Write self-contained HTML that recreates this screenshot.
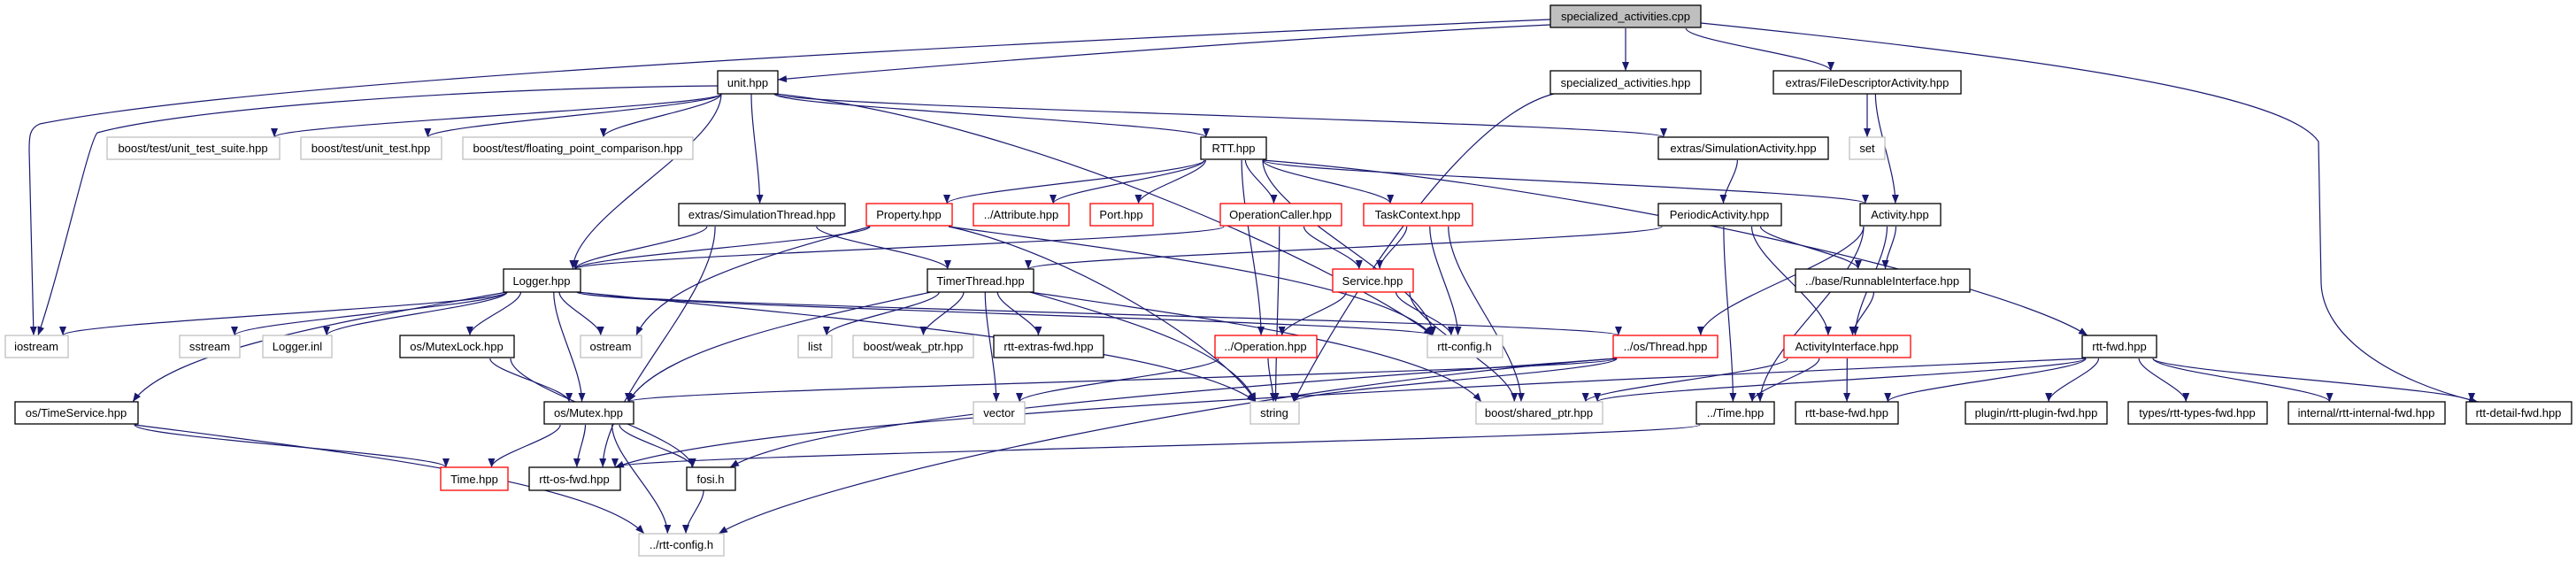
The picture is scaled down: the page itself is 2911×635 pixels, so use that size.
<!DOCTYPE html>
<html><head><meta charset="utf-8"><style>
html,body{margin:0;padding:0;background:#fff;width:2911px;height:635px;overflow:hidden}
svg text{font-family:"Liberation Sans",sans-serif;font-size:13px;fill:#000}
</style></head><body>
<svg id="g" width="2911" height="635" viewBox="0 0 2911 635" xmlns="http://www.w3.org/2000/svg">
<defs><marker id="a" markerWidth="11" markerHeight="8" refX="10" refY="4" orient="auto" markerUnits="userSpaceOnUse"><path d="M0,0 L10,4 L0,8 z" fill="#191970"/></marker></defs>
<g id="edges" fill="none" stroke="#191970" stroke-width="1.2"></g>
<g id="nodes" stroke-width="1.3">
<rect x="1752" y="6" width="170" height="25" fill="#bfbfbf" stroke="#000"/><text x="1837" y="23" text-anchor="middle">specialized_activities.cpp</text>
<rect x="811" y="80" width="68" height="26" fill="#fff" stroke="#000"/><text x="845" y="98" text-anchor="middle">unit.hpp</text>
<rect x="1752" y="80" width="170" height="26" fill="#fff" stroke="#000"/><text x="1837" y="98" text-anchor="middle">specialized_activities.hpp</text>
<rect x="2004" y="80" width="212" height="26" fill="#fff" stroke="#000"/><text x="2110" y="98" text-anchor="middle">extras/FileDescriptorActivity.hpp</text>
<rect x="121" y="155" width="195" height="25" fill="#fff" stroke="#bfbfbf"/><text x="218" y="172" text-anchor="middle">boost/test/unit_test_suite.hpp</text>
<rect x="340" y="155" width="159" height="25" fill="#fff" stroke="#bfbfbf"/><text x="419" y="172" text-anchor="middle">boost/test/unit_test.hpp</text>
<rect x="523" y="155" width="260" height="25" fill="#fff" stroke="#bfbfbf"/><text x="653" y="172" text-anchor="middle">boost/test/floating_point_comparison.hpp</text>
<rect x="1357" y="155" width="74" height="25" fill="#fff" stroke="#000"/><text x="1394" y="172" text-anchor="middle">RTT.hpp</text>
<rect x="1874" y="155" width="192" height="25" fill="#fff" stroke="#000"/><text x="1970" y="172" text-anchor="middle">extras/SimulationActivity.hpp</text>
<rect x="2090" y="155" width="40" height="25" fill="#fff" stroke="#bfbfbf"/><text x="2110" y="172" text-anchor="middle">set</text>
<rect x="767" y="230" width="188" height="25" fill="#fff" stroke="#000"/><text x="861" y="247" text-anchor="middle">extras/SimulationThread.hpp</text>
<rect x="979" y="230" width="97" height="25" fill="#fff" stroke="#f00"/><text x="1027" y="247" text-anchor="middle">Property.hpp</text>
<rect x="1100" y="230" width="108" height="25" fill="#fff" stroke="#f00"/><text x="1154" y="247" text-anchor="middle">../Attribute.hpp</text>
<rect x="1232" y="230" width="71" height="25" fill="#fff" stroke="#f00"/><text x="1267" y="247" text-anchor="middle">Port.hpp</text>
<rect x="1379" y="230" width="137" height="25" fill="#fff" stroke="#f00"/><text x="1447" y="247" text-anchor="middle">OperationCaller.hpp</text>
<rect x="1541" y="230" width="123" height="25" fill="#fff" stroke="#f00"/><text x="1602" y="247" text-anchor="middle">TaskContext.hpp</text>
<rect x="1874" y="230" width="139" height="25" fill="#fff" stroke="#000"/><text x="1943" y="247" text-anchor="middle">PeriodicActivity.hpp</text>
<rect x="2102" y="230" width="91" height="25" fill="#fff" stroke="#000"/><text x="2147" y="247" text-anchor="middle">Activity.hpp</text>
<rect x="569" y="304" width="87" height="26" fill="#fff" stroke="#000"/><text x="612" y="322" text-anchor="middle">Logger.hpp</text>
<rect x="1048" y="304" width="120" height="26" fill="#fff" stroke="#000"/><text x="1108" y="322" text-anchor="middle">TimerThread.hpp</text>
<rect x="1506" y="304" width="91" height="26" fill="#fff" stroke="#f00"/><text x="1551" y="322" text-anchor="middle">Service.hpp</text>
<rect x="2029" y="304" width="197" height="26" fill="#fff" stroke="#000"/><text x="2127" y="322" text-anchor="middle">../base/RunnableInterface.hpp</text>
<rect x="6" y="379" width="71" height="25" fill="#fff" stroke="#bfbfbf"/><text x="41" y="396" text-anchor="middle">iostream</text>
<rect x="203" y="379" width="68" height="25" fill="#fff" stroke="#bfbfbf"/><text x="237" y="396" text-anchor="middle">sstream</text>
<rect x="297" y="379" width="78" height="25" fill="#fff" stroke="#bfbfbf"/><text x="336" y="396" text-anchor="middle">Logger.inl</text>
<rect x="452" y="379" width="129" height="25" fill="#fff" stroke="#000"/><text x="516" y="396" text-anchor="middle">os/MutexLock.hpp</text>
<rect x="656" y="379" width="69" height="25" fill="#fff" stroke="#bfbfbf"/><text x="690" y="396" text-anchor="middle">ostream</text>
<rect x="902" y="379" width="38" height="25" fill="#fff" stroke="#bfbfbf"/><text x="921" y="396" text-anchor="middle">list</text>
<rect x="964" y="379" width="136" height="25" fill="#fff" stroke="#bfbfbf"/><text x="1032" y="396" text-anchor="middle">boost/weak_ptr.hpp</text>
<rect x="1123" y="379" width="124" height="25" fill="#fff" stroke="#000"/><text x="1185" y="396" text-anchor="middle">rtt-extras-fwd.hpp</text>
<rect x="1373" y="379" width="115" height="25" fill="#fff" stroke="#f00"/><text x="1430" y="396" text-anchor="middle">../Operation.hpp</text>
<rect x="1613" y="379" width="85" height="25" fill="#fff" stroke="#bfbfbf"/><text x="1655" y="396" text-anchor="middle">rtt-config.h</text>
<rect x="1823" y="379" width="118" height="25" fill="#fff" stroke="#f00"/><text x="1882" y="396" text-anchor="middle">../os/Thread.hpp</text>
<rect x="2016" y="379" width="143" height="25" fill="#fff" stroke="#f00"/><text x="2087" y="396" text-anchor="middle">ActivityInterface.hpp</text>
<rect x="2353" y="379" width="84" height="25" fill="#fff" stroke="#000"/><text x="2395" y="396" text-anchor="middle">rtt-fwd.hpp</text>
<rect x="17" y="454" width="139" height="25" fill="#fff" stroke="#000"/><text x="86" y="471" text-anchor="middle">os/TimeService.hpp</text>
<rect x="615" y="454" width="101" height="25" fill="#fff" stroke="#000"/><text x="665" y="471" text-anchor="middle">os/Mutex.hpp</text>
<rect x="1100" y="454" width="58" height="25" fill="#fff" stroke="#bfbfbf"/><text x="1129" y="471" text-anchor="middle">vector</text>
<rect x="1413" y="454" width="55" height="25" fill="#fff" stroke="#bfbfbf"/><text x="1440" y="471" text-anchor="middle">string</text>
<rect x="1668" y="454" width="143" height="25" fill="#fff" stroke="#bfbfbf"/><text x="1739" y="471" text-anchor="middle">boost/shared_ptr.hpp</text>
<rect x="1917" y="454" width="88" height="25" fill="#fff" stroke="#000"/><text x="1961" y="471" text-anchor="middle">../Time.hpp</text>
<rect x="2029" y="454" width="116" height="25" fill="#fff" stroke="#000"/><text x="2087" y="471" text-anchor="middle">rtt-base-fwd.hpp</text>
<rect x="2221" y="454" width="160" height="25" fill="#fff" stroke="#000"/><text x="2301" y="471" text-anchor="middle">plugin/rtt-plugin-fwd.hpp</text>
<rect x="2405" y="454" width="157" height="25" fill="#fff" stroke="#000"/><text x="2483" y="471" text-anchor="middle">types/rtt-types-fwd.hpp</text>
<rect x="2586" y="454" width="177" height="25" fill="#fff" stroke="#000"/><text x="2674" y="471" text-anchor="middle">internal/rtt-internal-fwd.hpp</text>
<rect x="2787" y="454" width="119" height="25" fill="#fff" stroke="#000"/><text x="2846" y="471" text-anchor="middle">rtt-detail-fwd.hpp</text>
<rect x="498" y="528" width="76" height="26" fill="#fff" stroke="#f00"/><text x="536" y="546" text-anchor="middle">Time.hpp</text>
<rect x="598" y="528" width="103" height="26" fill="#fff" stroke="#000"/><text x="649" y="546" text-anchor="middle">rtt-os-fwd.hpp</text>
<rect x="776" y="528" width="55" height="26" fill="#fff" stroke="#000"/><text x="803" y="546" text-anchor="middle">fosi.h</text>
<rect x="722" y="603" width="96" height="25" fill="#fff" stroke="#bfbfbf"/><text x="770" y="620" text-anchor="middle">../rtt-config.h</text>
</g>
</svg>
<script>
var N={root:[1752,1922,6],unit:[811,879,80],sah:[1752,1922,80],fda:[2004,2216,80],uts:[121,316,155],ut:[340,499,155],fpc:[523,783,155],rtt:[1357,1431,155],sima:[1874,2066,155],set:[2090,2130,155],simt:[767,955,230],prop:[979,1076,230],attr:[1100,1208,230],port:[1232,1303,230],opc:[1379,1516,230],tc:[1541,1664,230],pa:[1874,2013,230],act:[2102,2193,230],logger:[569,656,304],tt:[1048,1168,304],svc:[1506,1597,304],ri:[2029,2226,304],ios:[6,77,379],ss:[203,271,379],linl:[297,375,379],ml:[452,581,379],os:[656,725,379],list:[902,940,379],wp:[964,1100,379],ref:[1123,1247,379],op:[1373,1488,379],rc:[1613,1698,379],thr:[1823,1941,379],ai:[2016,2159,379],rfwd:[2353,2437,379],ts:[17,156,454],mx:[615,716,454],vec:[1100,1158,454],str:[1413,1468,454],sp:[1668,1811,454],time2:[1917,2005,454],rbf:[2029,2145,454],ppf:[2221,2381,454],tpf:[2405,2562,454],ipf:[2586,2763,454],dfw:[2787,2906,454],time:[498,574,528],osf:[598,701,528],fosi:[776,831,528],rcfg:[722,818,603]};
var C={
"root-ios":"M1752,22 C1100,50 300,90 45,140 C33,145 33,155 33,170 L38,379",
"unit-ios":"M811,97 C500,100 200,125 110,150 C100,160 70,300 43,379",
"root-dfw":"M1922,26 C2250,60 2580,100 2620,160 L2623,320 C2625,380 2700,430 2800,454",
"root-unit":"M1752,28 C1500,40 1100,70 879,90"
};
var E=[["root","unit"],["root","sah"],["root","fda"],["root","ios"],["root","dfw"],
["unit","ios"],["unit","uts"],["unit","ut"],["unit","fpc"],["unit","logger"],["unit","simt"],["unit","rtt"],["unit","sima"],["unit","rc"],
["sah","str"],["fda","set"],["fda","act"],["sima","pa"],
["rtt","prop"],["rtt","attr"],["rtt","port"],["rtt","opc"],["rtt","tc"],["rtt","op"],["rtt","rc"],["rtt","act"],["rtt","rfwd"],
["simt","tt"],["simt","logger"],["simt","osf"],
["prop","logger"],["prop","str"],["prop","rc"],["prop","os"],
["opc","logger"],["opc","svc"],["opc","str"],
["tc","svc"],["tc","rc"],["tc","sp"],
["pa","tt"],["pa","ri"],["pa","ai"],["pa","time2"],
["act","thr"],["act","ri"],["act","ai"],["act","time2"],
["logger","ios"],["logger","ss"],["logger","linl"],["logger","ml"],["logger","os"],["logger","mx"],["logger","ts"],["logger","rc"],["logger","str"],["logger","thr"],
["tt","list"],["tt","wp"],["tt","ref"],["tt","str"],["tt","mx"],["tt","sp"],["tt","vec"],
["svc","op"],["svc","rc"],["svc","sp"],
["thr","mx"],["thr","str"],["thr","fosi"],["thr","rcfg"],
["ai","sp"],["ai","time2"],["ai","rbf"],["ri","ai"],
["rfwd","sp"],["rfwd","ppf"],["rfwd","tpf"],["rfwd","ipf"],["rfwd","dfw"],["rfwd","rbf"],["rfwd","osf"],
["ml","mx"],["ml","fosi"],["mx","time"],["mx","osf"],["mx","fosi"],["mx","rcfg"],
["ts","time"],["ts","rcfg"],["fosi","rcfg"],["op","vec"],["op","str"],["time2","osf"]];
function cl(v,a,b){return Math.max(a,Math.min(b,v));}
var g=document.getElementById("edges"),s="";
E.forEach(function(e){var a=N[e[0]],b=N[e[1]];if(!a||!b)return;
var p=C[e[0]+"-"+e[1]];
if(!p){var ac=(a[0]+a[1])/2,bc=(b[0]+b[1])/2;
if(b[2]>a[2]){var sx=cl(ac+(bc-ac)*0.25,a[0]+4,a[1]-4),sy=a[2]+26;
var tx=cl(bc+(ac-bc)*0.15,b[0]+6,b[1]-6),ty=b[2];
if(b[2]-a[2]>100&&Math.abs(bc-ac)>300){p="M"+sx+","+sy+" C"+(sx+(tx-sx)*0.4)+","+(sy+30)+" "+(tx-(tx-sx)*0.1)+","+(ty-60)+" "+tx+","+ty;}
else p="M"+sx+","+sy+" C"+sx+","+(sy+(ty-sy)*0.3)+" "+tx+","+(ty-(ty-sy)*0.3)+" "+tx+","+ty;}
else{var y=a[2]+13;if(bc>ac)p="M"+a[1]+","+y+" L"+b[0]+","+(b[2]+13);else p="M"+a[0]+","+y+" L"+b[1]+","+(b[2]+13);}}
s+='<path d="'+p+'" marker-end="url(#a)"/>';});
g.innerHTML=s;
</script>
</body></html>
